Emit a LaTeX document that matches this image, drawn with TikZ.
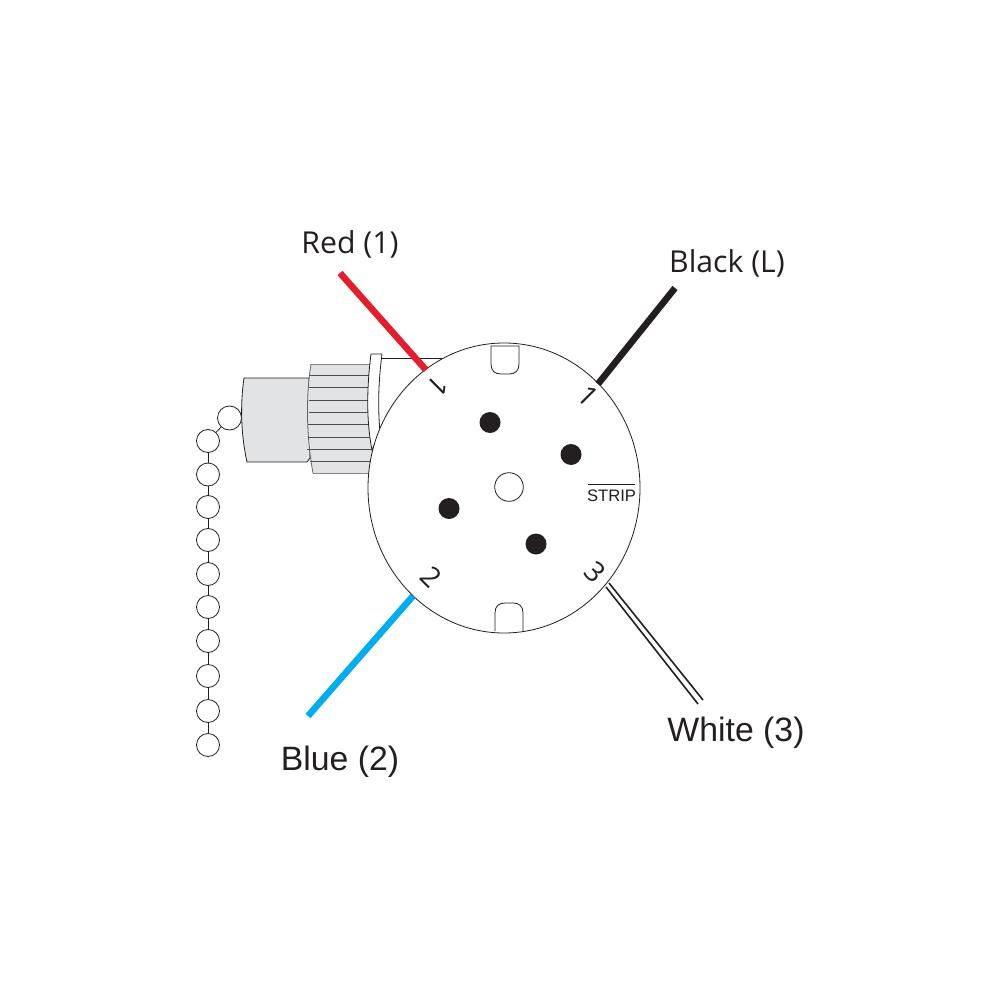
\documentclass[tikz,border=0pt]{standalone}
\usetikzlibrary{shapes.geometric}
\usepackage{fontspec}
\setmainfont{Open Sans}
\newfontfamily\arialf{Liberation Sans}
\definecolor{capgray}{HTML}{E2E3E4}
\definecolor{wirered}{HTML}{E31E2D}
\definecolor{wireblue}{HTML}{00AEEF}
\definecolor{ink}{HTML}{231F20}
\tikzset{
  outline/.style={draw=ink,line width=0.4pt},
  rib/.style={draw=ink!80,line width=0.45pt},
  bead/.style={circle,draw=ink,line width=0.4pt,fill=white,minimum size=11.5pt,inner sep=0pt},
  pin/.style={circle,fill=ink,minimum size=10.5pt,inner sep=0pt},
  wire/.style={line width=3.3pt},
  lbl/.style={font=\fontsize{15.1}{18}\selectfont,text=ink,inner sep=0pt},
  lblb/.style={font=\arialf\fontsize{16.9}{19}\selectfont,text=ink,inner sep=0pt},
  numb/.style={font=\fontsize{14}{16}\selectfont,text=ink,inner sep=0pt}
}
\begin{document}
\begin{tikzpicture}[x=0.5pt,y=-0.5pt]
\useasboundingbox (0,0) rectangle (1000,1000);
% chain
\foreach \n/\py in {1/441,2/474.5,3/507,4/540,5/574,6/607,7/641,8/676,9/711,10/745}{
  \node[bead] (b\n) at (208,\py) {};
}
\node[bead,minimum size=12pt] (b0) at (229.5,418) {};
\draw[outline] (b0) -- (b1);
\foreach \a/\b in {1/2,2/3,3/4,4/5,5/6,6/7,7/8,8/9,9/10}{\draw[outline] (b\a) -- (b\b);}
% cap
\draw[outline,fill=capgray] (244,378) -- (309,378) -- (310,458) -- (307,462) -- (247,462)
  .. controls (241,435) and (240,405) .. (244,378) -- cycle;
% knurl
\fill[capgray] (311,364) -- (372,364) -- (372,473) -- (313,473)
  .. controls (306,435) and (306,395) .. (311,364) -- cycle;
\draw[draw=ink!55,line width=0.5pt] (311,364) -- (372,364);
\draw[draw=ink!55,line width=0.5pt] (313,473) -- (370,473);
\draw[draw=ink!70,line width=0.4pt] (311,364) .. controls (306,395) and (306,435) .. (313,473);
\foreach \yy/\xa in {375/310,387/309,400/309,412/309,424/308,437/308,449/307,461/310}{
  \draw[rib] (\xa,\yy) -- (372,\yy);
}
% flange
\draw[outline,fill=white] (371,354) -- (382,354) .. controls (378,385) and (378,410) .. (380,432)
  -- (372,450) .. controls (366,420) and (367,385) .. (371,354) -- cycle;
\coordinate (rimA) at (382,358);
\coordinate (rimB) at (445,358);
\draw[outline] (rimA) -- (rimB);
% wires
\coordinate (redA) at (340,273);
\coordinate (redB) at (426,370);
\coordinate (blkA) at (675,288);
\coordinate (blkB) at (598,384);
\coordinate (bluA) at (308,716);
\coordinate (bluB) at (413,596);
\coordinate (wh1A) at (609,583);
\coordinate (wh1B) at (703,700);
\coordinate (wh2A) at (606,587);
\coordinate (wh2B) at (698,704);
% body
\node[ellipse,outline,fill=white,minimum width=136pt,minimum height=145pt,inner sep=0pt] (body) at (504,488) {};
\draw[wire,wirered] (redA) -- (redB);
\draw[wire,ink] (blkA) -- (blkB);
\draw[wire,wireblue] (bluA) -- (bluB);
\draw[ink,line width=0.8pt] (wh1A) -- (wh1B);
\draw[ink,line width=0.8pt] (wh2A) -- (wh2B);
% slots
\draw[outline] (491,346) -- (491,364) .. controls (491,371) and (495,374) .. (501,374) -- (509,374)
  .. controls (515,374) and (519,371) .. (519,364) -- (519,346) -- cycle;
\draw[outline] (495,631) -- (495,613) .. controls (495,606) and (499,603) .. (505,603) -- (513,603)
  .. controls (519,603) and (523,606) .. (523,613) -- (523,631);
% pins
\node[pin] (p1) at (490,422.5) {};
\node[pin] (p2) at (571,454.5) {};
\node[pin] (p3) at (449,508.5) {};
\node[pin] (p4) at (536,544) {};
\node[circle,draw=ink,line width=0.4pt,minimum size=14.3pt,inner sep=0pt] (hole) at (509,487) {};
% terminal numbers
\node[numb,rotate=-135] (n1) at (438,386) {1};
\node[numb,rotate=-45] (nL) at (588,396) {1};
\node[numb,rotate=-45] (n2) at (431,577) {2};
\node[numb,rotate=-45] (n3) at (595,572) {3};
\node[font=\arialf\fontsize{8.3}{10}\selectfont,text=ink,inner sep=0pt] (strip) at (611.5,495.5) {STRIP};
\coordinate (ovA) at (588,484);
\coordinate (ovB) at (635,484);
\draw[outline] (ovA) -- (ovB);
% labels
\node[lbl] (lr) at (350,244) {Red (1)};
\node[lbl] (lk) at (727,263) {Black (L)};
\node[lblb] (lb) at (340,762) {Blue (2)};
\node[lblb] (lw) at (736,733) {White (3)};
\end{tikzpicture}
\end{document}
